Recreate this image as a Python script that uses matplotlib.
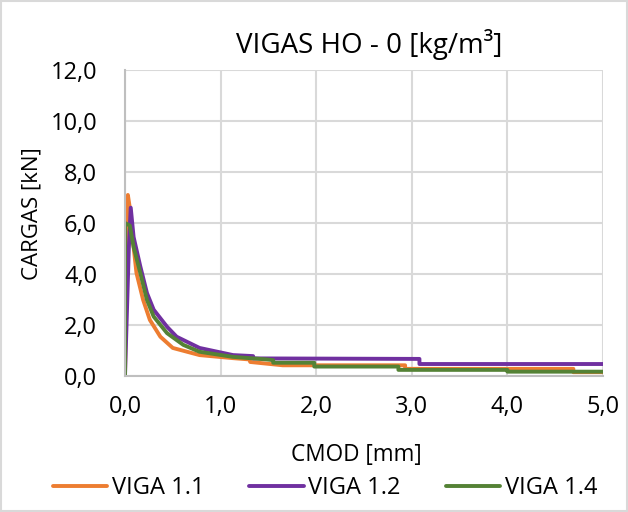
import matplotlib
matplotlib.use('Agg')
import matplotlib.pyplot as plt
from matplotlib.patches import Rectangle

plt.rcParams['font.family'] = ['Open Sans', 'DejaVu Sans']

# CMOD [mm] vs carga [kN]
x_11 = [0.0, 0.02, 0.03, 0.05, 0.09, 0.12, 0.19, 0.26, 0.37, 0.50, 0.78, 1.13, 1.30, 1.31, 1.65, 2.93, 2.93, 4.69, 4.69, 5.0]
y_11 = [0.0, 5.5, 7.1, 6.6, 5.06, 4.04, 2.98, 2.2, 1.54, 1.1, 0.82, 0.70, 0.65, 0.55, 0.42, 0.42, 0.28, 0.28, 0.15, 0.15]

x_12 = [0.0, 0.04, 0.06, 0.09, 0.16, 0.23, 0.30, 0.44, 0.54, 0.78, 1.13, 1.34, 1.34, 3.08, 3.08, 5.0]
y_12 = [0.0, 5.0, 6.6, 5.45, 4.3, 3.25, 2.6, 1.93, 1.54, 1.1, 0.82, 0.78, 0.69, 0.67, 0.47, 0.47]

x_14 = [0.0, 0.0, 0.05, 0.09, 0.16, 0.23, 0.30, 0.44, 0.61, 0.78, 1.13, 1.48, 1.55, 1.55, 1.98, 1.98, 2.86, 2.86, 4.0, 4.0, 5.0]
y_14 = [0.0, 6.0, 5.9, 5.06, 4.04, 2.98, 2.33, 1.68, 1.22, 0.95, 0.75, 0.65, 0.62, 0.52, 0.52, 0.37, 0.37, 0.24, 0.24, 0.17, 0.17]

series = [(x_11, y_11, 'VIGA 1.1', '#ED7D31'),
          (x_12, y_12, 'VIGA 1.2', '#7030A0'),
          (x_14, y_14, 'VIGA 1.4', '#548235')]

xticks = [0, 1, 2, 3, 4, 5]
yticks = [0, 2, 4, 6, 8, 10, 12]

fs = 17
grid_c = '#d9d9d9'

fig = plt.figure(figsize=(6.28, 5.12), dpi=100)
ax = fig.add_axes([125/628, 1-376/512, 478/628, 306/512])

for xs, ys, lab, col in series:
    ax.plot(xs, ys, color=col, lw=2.8, label=lab, solid_joinstyle='round', solid_capstyle='round')

ax.set_xlim(0, 5)
ax.set_ylim(0, 12)
ax.set_xticks(xticks)
ax.set_yticks(yticks)
ax.set_xticklabels(['{:.1f}'.format(v).replace('.', ',') for v in xticks], fontsize=fs)
ax.set_yticklabels(['{:.1f}'.format(v).replace('.', ',') for v in yticks], fontsize=fs)
ax.tick_params(axis='y', length=0, pad=20)
ax.tick_params(axis='x', length=0, pad=14)
ax.grid(True, color=grid_c, lw=1.5)
ax.set_axisbelow(True)
for s in ['top', 'right']:
    ax.spines[s].set_visible(False)
for s in ['left', 'bottom']:
    ax.spines[s].set_color('#bfbfbf')
    ax.spines[s].set_linewidth(1.5)

fig.text(369/628, 1-45/512, 'VIGAS HO - 0 [kg/m³]', fontsize=20, ha='center', va='center')
fig.text(356/628, 1-455/512, 'CMOD [mm]', fontsize=16.3, ha='center', va='center')
fig.text(32/628, 1-214/512, 'CARGAS [kN]', fontsize=16, ha='center', va='center', rotation=90)

fig.legend(loc='center', bbox_to_anchor=(325/628, 1-488/512), ncol=3, frameon=False,
           fontsize=fs, handlelength=2.3, handletextpad=0.2, columnspacing=1.9)

fig.patches.append(Rectangle((0.002, 0.002), 0.996, 0.996, transform=fig.transFigure,
                             fill=False, edgecolor=grid_c, lw=1.5))

fig.savefig('out.png', dpi=100)
